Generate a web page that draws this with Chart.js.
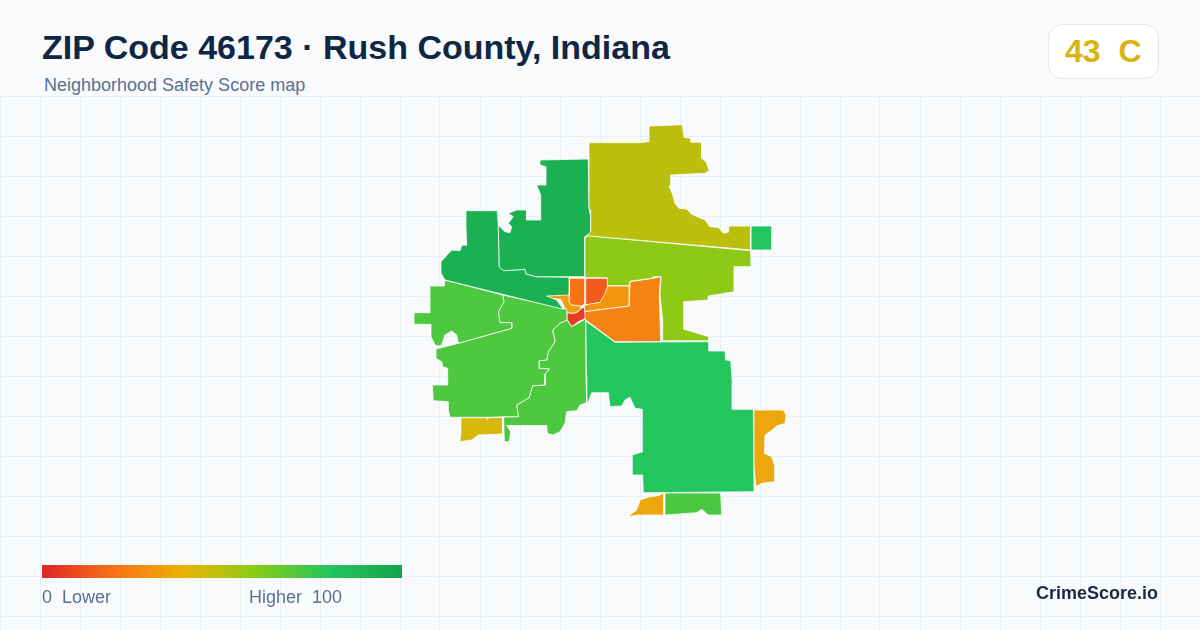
<!DOCTYPE html>
<html>
<head>
<meta charset="utf-8">
<title>ZIP Code 46173</title>
<script src="https://cdn.jsdelivr.net/npm/chart.js@4"></script>
<style>
  html, body { margin: 0; padding: 0; }
  body { width: 1200px; height: 630px; position: relative; overflow: hidden; background: #f8fafc; font-family: "Liberation Sans", Arial, sans-serif; }
  #map { position: absolute; left: 0; top: 96px; }
  .t { position: absolute; white-space: pre; line-height: 1; }
  #title { left: 42px; top: 30px; font-size: 34px; font-weight: 700; color: #0f2744; }
  #sub { left: 44px; top: 76px; font-size: 18px; color: #5b7190; }
  #badge { position: absolute; left: 1048px; top: 24px; width: 109px; height: 53px; background: #fff; border: 1px solid #e2e8f0; border-radius: 14px; }
  #grade { left: 1065px; top: 35px; font-size: 32px; font-weight: 700; color: #d9b310; }
  #bar { position: absolute; left: 42px; top: 565px; width: 360px; height: 13px; }
  #low { left: 42px; top: 588px; font-size: 18px; color: #5b7190; }
  #high { left: 249px; top: 588px; font-size: 18px; color: #5b7190; }
  #brand { right: 42px; top: 584px; font-size: 18px; font-weight: 700; color: #1a2a42; }
</style>
</head>
<body>
<canvas id="map" width="1200" height="534"></canvas>
<div class="t" id="title"></div>
<div class="t" id="sub"></div>
<div id="badge"></div>
<div class="t" id="grade"></div>
<div id="bar"></div>
<div class="t" id="low"></div>
<div class="t" id="high"></div>
<div class="t" id="brand"></div>
<script>
const titleText = "ZIP Code 46173 · Rush County, Indiana";
const subtitleText = "Neighborhood Safety Score map";
const zipScore = 43;
const zipGrade = "C";
const scaleMin = 0;
const scaleMax = 100;

// colour ramp of the score legend
const rampStops = [0, 20, 40, 60, 80, 100];
const rampColors = ["#dc2626", "#f97316", "#eab308", "#84cc16", "#22c55e", "#16a34a"];

// block group outlines in map units
const outlineNorthEast = [[589,142.7],[638.3,142.7],[649,141.7],[649,126],[682.3,124.7],[684,137.3],[691,138.3],[691,142.3],[701.7,142.3],[701.7,158.3],[706,161.7],[709.3,170.7],[705,173.3],[671,175],[671,183.3],[669.3,186.7],[672.7,195],[675,203.3],[679,208.3],[686.7,209],[691.7,214.3],[705,220],[710,226.7],[718.3,227.3],[723.3,233.3],[728.3,232.3],[729,226],[750.7,226],[750.7,250],[720,247.3],[586.7,235.7],[590.7,231.7],[590.7,210],[589,208.3]];
const outlineFarEast = [[750.7,226],[772,226],[772,250],[750.7,250]];
const outlineEast = [[586.7,235.7],[750.7,250.7],[751,266.7],[734.3,266.7],[734.3,291.7],[708.3,296],[708.3,300],[684,301.7],[684,329.3],[709,336.7],[709,340.7],[662.7,340.7],[662.7,320],[660,295],[661,276.7],[653.3,276.7],[651.7,278.3],[630,281.3],[629.3,285.7],[607.3,285.7],[607.3,277.7],[585,277.7],[585,239.3]];
const outlineNorth = [[540,160],[588.3,159],[589,208.3],[590.7,216.7],[590.7,233.3],[585,236.7],[585,276.7],[536.7,276.7],[526,274],[525,269.3],[503.3,270.7],[499.3,266.7],[498.3,225],[505,231.7],[510,232.7],[511.7,226.7],[508.3,223.3],[513.3,216.7],[508.3,213.3],[516.7,210],[526.7,210],[526.7,220],[540.7,220],[540.7,195],[536.7,185],[546,185],[546,166.7],[540,165]];
const outlineNorthWest = [[466,210.7],[497.3,210.7],[498.3,225],[499.3,266.7],[503.3,270.7],[525,269.3],[526,274],[536.7,276.7],[569.3,277.3],[569.3,295],[546.7,296],[556.7,300],[563.3,309.3],[445,280],[441,273.3],[441,261.7],[451.7,250],[460,250.7],[461.7,245.3],[466.7,245.3],[466,227.3]];
const outlineWest = [[445,280],[502.7,295],[504,301.7],[498.3,311.7],[500,322.7],[511.7,322.7],[511.7,328.3],[458.3,343.3],[456.7,335],[451.7,331],[445,335],[441.7,345],[438,346],[435,345],[431,336.7],[431,324.3],[414,324.3],[414,312.7],[430,312.7],[430,286],[444.3,286]];
const outlineSouthWest = [[502.7,295],[566.7,309.3],[567,320],[560,323.3],[552.7,330],[555,341.7],[548.3,351.7],[546.7,360],[539.3,360.7],[539.3,368.3],[549.3,369],[545,374],[545,385],[532.7,385.7],[529,397.7],[516.7,405],[518.3,416.7],[504,416.7],[490,417.3],[450,417.3],[448.3,410],[448.3,401.7],[433.3,400.7],[432.3,385],[447.7,385],[447.7,368.3],[442.7,366.7],[441.7,361.7],[436,358.3],[436,349],[458.3,343.3],[511.7,328.3],[511.7,322.7],[500,322.7],[498.3,311.7],[504,301.7]];
const outlineSouth = [[567,320],[571.7,326.7],[585.7,319],[586,376.7],[586.7,402.7],[580,405],[576.7,410.7],[566.7,411.7],[565,423.3],[560,431.7],[552.7,435],[547.3,433.3],[546.7,425.5],[506.7,425.5],[510.7,431.7],[509.3,441.7],[504.3,441.7],[503.7,417],[518.3,416.7],[516.7,405],[529,397.7],[532.7,385.7],[545,385],[545,374],[549.3,369],[539.3,368.3],[539.3,360.7],[546.7,360],[548.3,351.7],[555,341.7],[552.7,330],[560,323.3]];
const outlineSouthLow = [[461,417.7],[486,417.7],[487.3,419.3],[489,417.7],[502.7,417.3],[502.7,434],[478.3,435],[471.7,440],[460,441.7],[461,431.7]];
const outlineSouthEast = [[585.7,321],[615,342.3],[709,341.7],[709,351],[725,351],[725.7,360],[730.7,360.7],[732.3,383.3],[732.3,409.3],[753.3,409.3],[754,491.7],[643.3,492.7],[642.7,475],[632.3,475],[632.3,455],[642.7,451.7],[642.3,409.3],[635,408.3],[630,397.3],[625,400],[621.7,406],[610,406.7],[608.3,392.7],[591.7,392.7],[588.3,401.7],[586.7,402.7]];
const outlineEastEdge = [[754,410],[783.3,410],[786,415],[785,423.3],[776.7,426],[770,431.7],[765,435],[764.3,453.3],[771.7,456.7],[775,466.7],[775,481.7],[761.7,483.3],[756,486.7],[754,466.7]];
const outlineFarSouthA = [[664,492.7],[664,515],[638.3,515],[627.7,516.7],[636.7,510],[640,500],[650,496.7],[658.3,495.7]];
const outlineFarSouthB = [[665,493],[720.7,493],[721.7,515],[708.3,515],[701.7,509.3],[696.7,512.7],[665,515]];
const outlineTownEast = [[630,281.7],[653.3,278.3],[660.7,276.7],[659.3,295],[660.7,341.7],[615,341.7],[585.7,320],[585,311.7],[629.3,306]];
const outlineTownMid = [[607.7,286],[629.3,286],[629.3,306],[585,311.7],[584.3,307.3],[585,305],[600,302.3],[605,293.3]];
const outlineTownNorthA = [[585.7,278.3],[607.7,278.3],[607.7,293.3],[601.7,302.3],[585,305]];
const outlineTownNorthB = [[569.3,278.3],[585,278.3],[585,303.3],[581.7,306],[571.7,305],[569.3,302.3]];
const outlineTownWest = [[546,296],[569.3,294],[569.3,302.3],[571.7,305],[581.7,306],[581,308.3],[578.3,311.7],[573.3,313.3],[567,312.7],[560.7,299.3],[548.3,298.3]];
const outlineTownCentre = [[567,312.7],[573.3,313.3],[578.3,311.7],[581,308.3],[584.3,307.3],[585.7,318.3],[578.3,321.7],[571.7,326.7],[567,319.3]];

const regionOutlines = [outlineNorthEast, outlineFarEast, outlineEast, outlineNorth, outlineNorthWest, outlineWest, outlineSouthWest, outlineSouth, outlineSouthLow, outlineSouthEast, outlineEastEdge, outlineFarSouthA, outlineFarSouthB, outlineTownEast, outlineTownMid, outlineTownNorthA, outlineTownNorthB, outlineTownWest, outlineTownCentre];
// scores estimated from each block's colour on the ramp
const regionScores = [49, 80, 58, 92, 92, 71, 71, 71, 44, 80, 36, 36, 72, 25, 31, 14, 20, 34, 6];

function hexToRgb(h) {
  return [1, 3, 5].map(i => parseInt(h.slice(i, i + 2), 16));
}

function scoreColor(score) {
  let i = 0;
  while (i < rampStops.length - 2 && score > rampStops[i + 1]) i++;
  const f = (score - rampStops[i]) / (rampStops[i + 1] - rampStops[i]);
  const a = hexToRgb(rampColors[i]);
  const b = hexToRgb(rampColors[i + 1]);
  const c = a.map((v, k) => Math.round(v + (b[k] - v) * f));
  return "rgb(" + c.join(",") + ")";
}

document.getElementById("title").textContent = titleText;
document.getElementById("sub").textContent = subtitleText;
document.getElementById("grade").textContent = zipScore + "  " + zipGrade;
document.getElementById("low").textContent = scaleMin + "  Lower";
document.getElementById("high").textContent = "Higher  " + scaleMax;
document.getElementById("brand").textContent = "CrimeScore.io";
document.getElementById("bar").style.background = "linear-gradient(to right," +
  rampColors.map((c, i) => c + " " + rampStops[i] + "%").join(",") + ")";

const datasets = regionOutlines.map((outline, i) => ({
  data: outline.concat([outline[0]]).map(p => ({ x: p[0], y: p[1] })),
  showLine: true,
  fill: "shape",
  tension: 0,
  pointRadius: 0,
  borderWidth: 0.9,
  borderColor: "rgba(255,255,255,0.85)",
  backgroundColor: scoreColor(regionScores[i])
}));

function gridTicks(from, to) {
  const ticks = [];
  for (let v = from; v <= to; v += 40) ticks.push({ value: v });
  return ticks;
}

new Chart(document.getElementById("map"), {
  type: "scatter",
  data: { datasets },
  options: {
    responsive: false,
    animation: false,
    layout: { padding: 0 },
    plugins: { legend: { display: false }, tooltip: { enabled: false } },
    scales: {
      x: {
        type: "linear", min: 0, max: 1200,
        afterBuildTicks: axis => { axis.ticks = gridTicks(0, 1200); },
        ticks: { display: false },
        border: { display: false },
        grid: { color: "#e9f0f5", lineWidth: 1, drawTicks: false }
      },
      y: {
        type: "linear", min: 96, max: 630, reverse: true,
        afterBuildTicks: axis => { axis.ticks = gridTicks(96, 630); },
        ticks: { display: false },
        border: { display: false },
        grid: { color: "#e9f0f5", lineWidth: 1, drawTicks: false }
      }
    }
  }
});
</script>
</body>
</html>
